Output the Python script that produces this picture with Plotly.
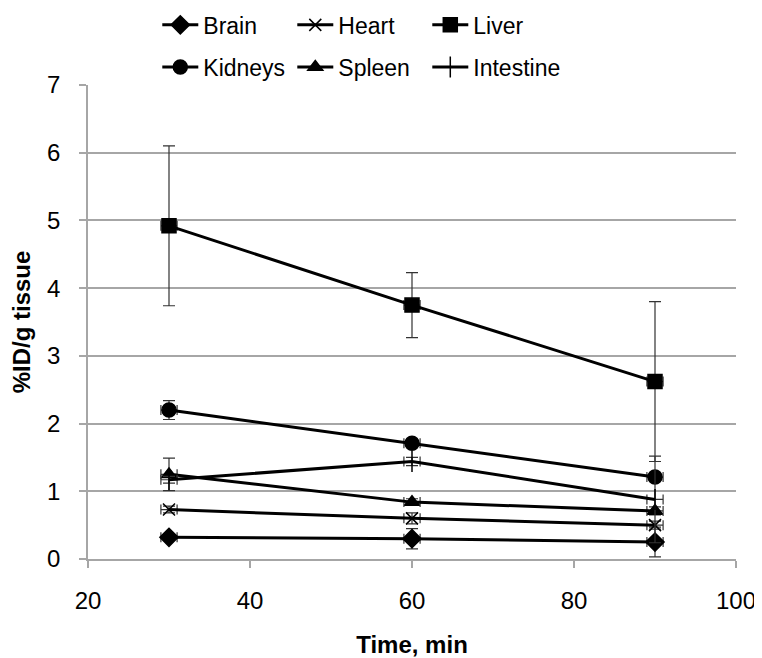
import plotly.graph_objects as go

time_min = [30, 60, 90]

brain = [0.32, 0.30, 0.25]
brain_err = [0.03, 0.15, 0.22]
heart = [0.73, 0.60, 0.50]
heart_err = [0.05, 0.08, 0.06]
liver = [4.92, 3.75, 2.62]
liver_err = [1.18, 0.48, 1.18]
kidneys = [2.20, 1.71, 1.21]
kidneys_err = [0.14, 0.04, 0.05]
spleen = [1.25, 0.84, 0.71]
spleen_err = [0.24, 0.05, 0.06]
intestine = [1.17, 1.44, 0.88]
intestine_err = [0.05, 0.06, 0.64]
time_err = [1.0, 1.0, 1.0]

series = [
    ("Brain", brain, brain_err, "diamond", 14, "legend"),
    ("Heart", heart, heart_err, "x-thin-open", 12, "legend"),
    ("Liver", liver, liver_err, "square", 14, "legend"),
    ("Kidneys", kidneys, kidneys_err, "circle", 14, "legend2"),
    ("Spleen", spleen, spleen_err, "triangle-up", 13, "legend2"),
    ("Intestine", intestine, intestine_err, "line-ns-open", 15, "legend2"),
]

fig = go.Figure()
for name, vals, errs, sym, size, lg in series:
    fig.add_trace(go.Scatter(
        x=time_min, y=vals, name=name, mode="lines+markers",
        line=dict(color="black", width=3),
        marker=dict(symbol=sym, size=size, color="black",
                    line=dict(color="black", width=1.5)),
        error_y=dict(type="data", array=errs, visible=True,
                     color="#333333", thickness=1.2, width=6),
        error_x=dict(type="data", array=time_err, visible=True,
                     color="#333333", thickness=1.2, width=5),
        legend=lg,
    ))

font_family = "Liberation Sans, Arial, sans-serif"
leg_common = dict(orientation="h", xanchor="left", yanchor="middle",
                  xref="container", yref="container",
                  font=dict(size=23, color="black", family=font_family),
                  itemwidth=36, entrywidth=84, entrywidthmode="pixels",
                  bgcolor="rgba(0,0,0,0)", tracegroupgap=0)

fig.update_layout(
    width=754, height=650,
    margin=dict(l=80, r=26, t=77, b=99, autoexpand=False),
    paper_bgcolor="white", plot_bgcolor="white",
    font=dict(family=font_family, size=24, color="black"),
    showlegend=True,
    legend=dict(x=0.198, y=0.974, **leg_common),
    legend2=dict(x=0.198, y=0.909, **leg_common),
    xaxis=dict(
        range=[20, 100], dtick=20, tick0=20, automargin=False,
        showgrid=False, showline=True, linecolor="#a6a6a6", linewidth=1.5,
        ticks="outside", ticklen=7, tickcolor="#a6a6a6", tickwidth=1.5,
        tickfont=dict(size=24), zeroline=False, ticklabelstandoff=12,
        title=dict(text="<b>Time, min</b>", font=dict(size=24), standoff=24),
    ),
    yaxis=dict(
        range=[0, 7], dtick=1, automargin=False,
        showgrid=True, gridcolor="#a6a6a6", gridwidth=1.5,
        showline=True, linecolor="#a6a6a6", linewidth=1.5,
        ticks="outside", ticklen=7, tickcolor="#a6a6a6", tickwidth=1.5,
        tickfont=dict(size=24), zeroline=False, ticklabelstandoff=14,
        title=dict(text="<b>%ID/g tissue</b>", font=dict(size=24), standoff=10),
    ),
)

fig.write_html("out.html")
